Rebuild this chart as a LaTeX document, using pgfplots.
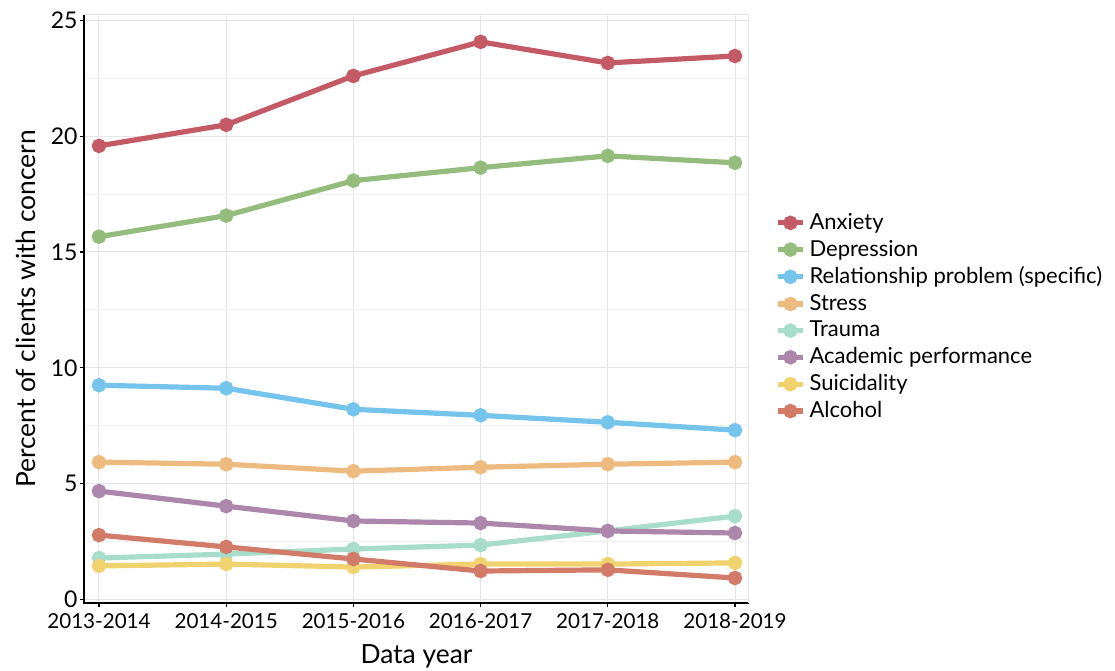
\documentclass[border=0pt]{standalone}
\usepackage{pgfplots}
\pgfplotsset{compat=1.18}
\usepackage{fontspec}
\setmainfont{Lato}
\definecolor{cAnx}{HTML}{C45A66}
\definecolor{cDep}{HTML}{94BC7C}
\definecolor{cRel}{HTML}{74C4EC}
\definecolor{cStr}{HTML}{EDBA80}
\definecolor{cTra}{HTML}{A8DCCB}
\definecolor{cAca}{HTML}{AD86AC}
\definecolor{cSui}{HTML}{F0D26E}
\definecolor{cAlc}{HTML}{D27B68}
\begin{document}
\begin{tikzpicture}
\begin{axis}[
  scale only axis,
  width=332.5pt, height=294pt,
  xmin=-0.118, xmax=5.11,
  ymin=-0.15, ymax=25.23,
  xtick={0,1,2,3,4,5},
  xticklabels={2013-2014,2014-2015,2015-2016,2016-2017,2017-2018,2018-2019},
  ytick={0,5,10,15,20,25},
  minor ytick={2.5,7.5,12.5,17.5,22.5},
  grid=both,
  major grid style={gray!20, line width=0.5pt},
  minor grid style={gray!12, line width=0.5pt},
  axis line style={draw=none},
  tick style={black, line width=0.6pt},
  major tick length=2pt,
  minor tick length=0pt,
  tick align=outside,
  xtick pos=bottom, ytick pos=left,
  /pgf/number format/assume math mode=true,
  xticklabel style={font=\fontsize{10.3}{12}\selectfont, black},
  yticklabel style={font=\fontsize{11.5}{13}\selectfont, black, inner sep=1pt},
  xlabel={Data year},
  ylabel={Percent of clients with concern},
  label style={font=\fontsize{13.2}{15}\selectfont},
  xlabel style={yshift=-1pt},
  ylabel style={yshift=3pt},
  legend style={at={(1.03,0.677)}, anchor=north west, draw=none, fill=none,
    font=\fontsize{11}{13.5}\selectfont, row sep=-0.15pt},
  legend cell align=left,
  legend image code/.code={\draw[#1, mark repeat=2, mark phase=2] plot coordinates {(0cm,0cm) (0.22cm,0cm) (0.44cm,0cm)};},
  every axis plot/.append style={line width=2.6pt, mark=*, mark size=2.3pt},
  clip=false,
]
\coordinate (bbsw) at (rel axis cs:-0.1263,-0.1156);
\coordinate (bbne) at (rel axis cs:1.5504,1.0255);
\draw[black, line width=1.1pt] (rel axis cs:0,1) -- (rel axis cs:0,0) -- (rel axis cs:1,0);
\draw[gray!20, line width=0.5pt] (rel axis cs:0,1) -- (rel axis cs:1,1) -- (rel axis cs:1,0);
\addplot[cAnx, mark options={fill=cAnx}] coordinates {(0,19.58) (1,20.49) (2,22.60) (3,24.07) (4,23.16) (5,23.46)};
\addlegendentry{Anxiety}
\addplot[cDep, mark options={fill=cDep}] coordinates {(0,15.66) (1,16.57) (2,18.08) (3,18.64) (4,19.15) (5,18.85)};
\addlegendentry{Depression}
\addplot[cRel, mark options={fill=cRel}] coordinates {(0,9.25) (1,9.12) (2,8.21) (3,7.95) (4,7.65) (5,7.31)};
\addlegendentry{Relationship problem (specific)}
\addplot[cStr, mark options={fill=cStr}] coordinates {(0,5.93) (1,5.84) (2,5.54) (3,5.71) (4,5.84) (5,5.93)};
\addlegendentry{Stress}
\addplot[cTra, mark options={fill=cTra}] coordinates {(0,1.79) (1,1.96) (2,2.18) (3,2.35) (4,2.96) (5,3.60)};
\addlegendentry{Trauma}
\addplot[cAca, mark options={fill=cAca}] coordinates {(0,4.68) (1,4.03) (2,3.39) (3,3.30) (4,2.96) (5,2.87)};
\addlegendentry{Academic performance}
\addplot[cSui, mark options={fill=cSui}] coordinates {(0,1.45) (1,1.53) (2,1.40) (3,1.53) (4,1.53) (5,1.58)};
\addlegendentry{Suicidality}
\addplot[cAlc, mark options={fill=cAlc}] coordinates {(0,2.78) (1,2.27) (2,1.75) (3,1.23) (4,1.28) (5,0.93)};
\addlegendentry{Alcohol}
\end{axis}
\pgfresetboundingbox
\path[use as bounding box] (bbsw) rectangle (bbne);
\end{tikzpicture}
\end{document}
